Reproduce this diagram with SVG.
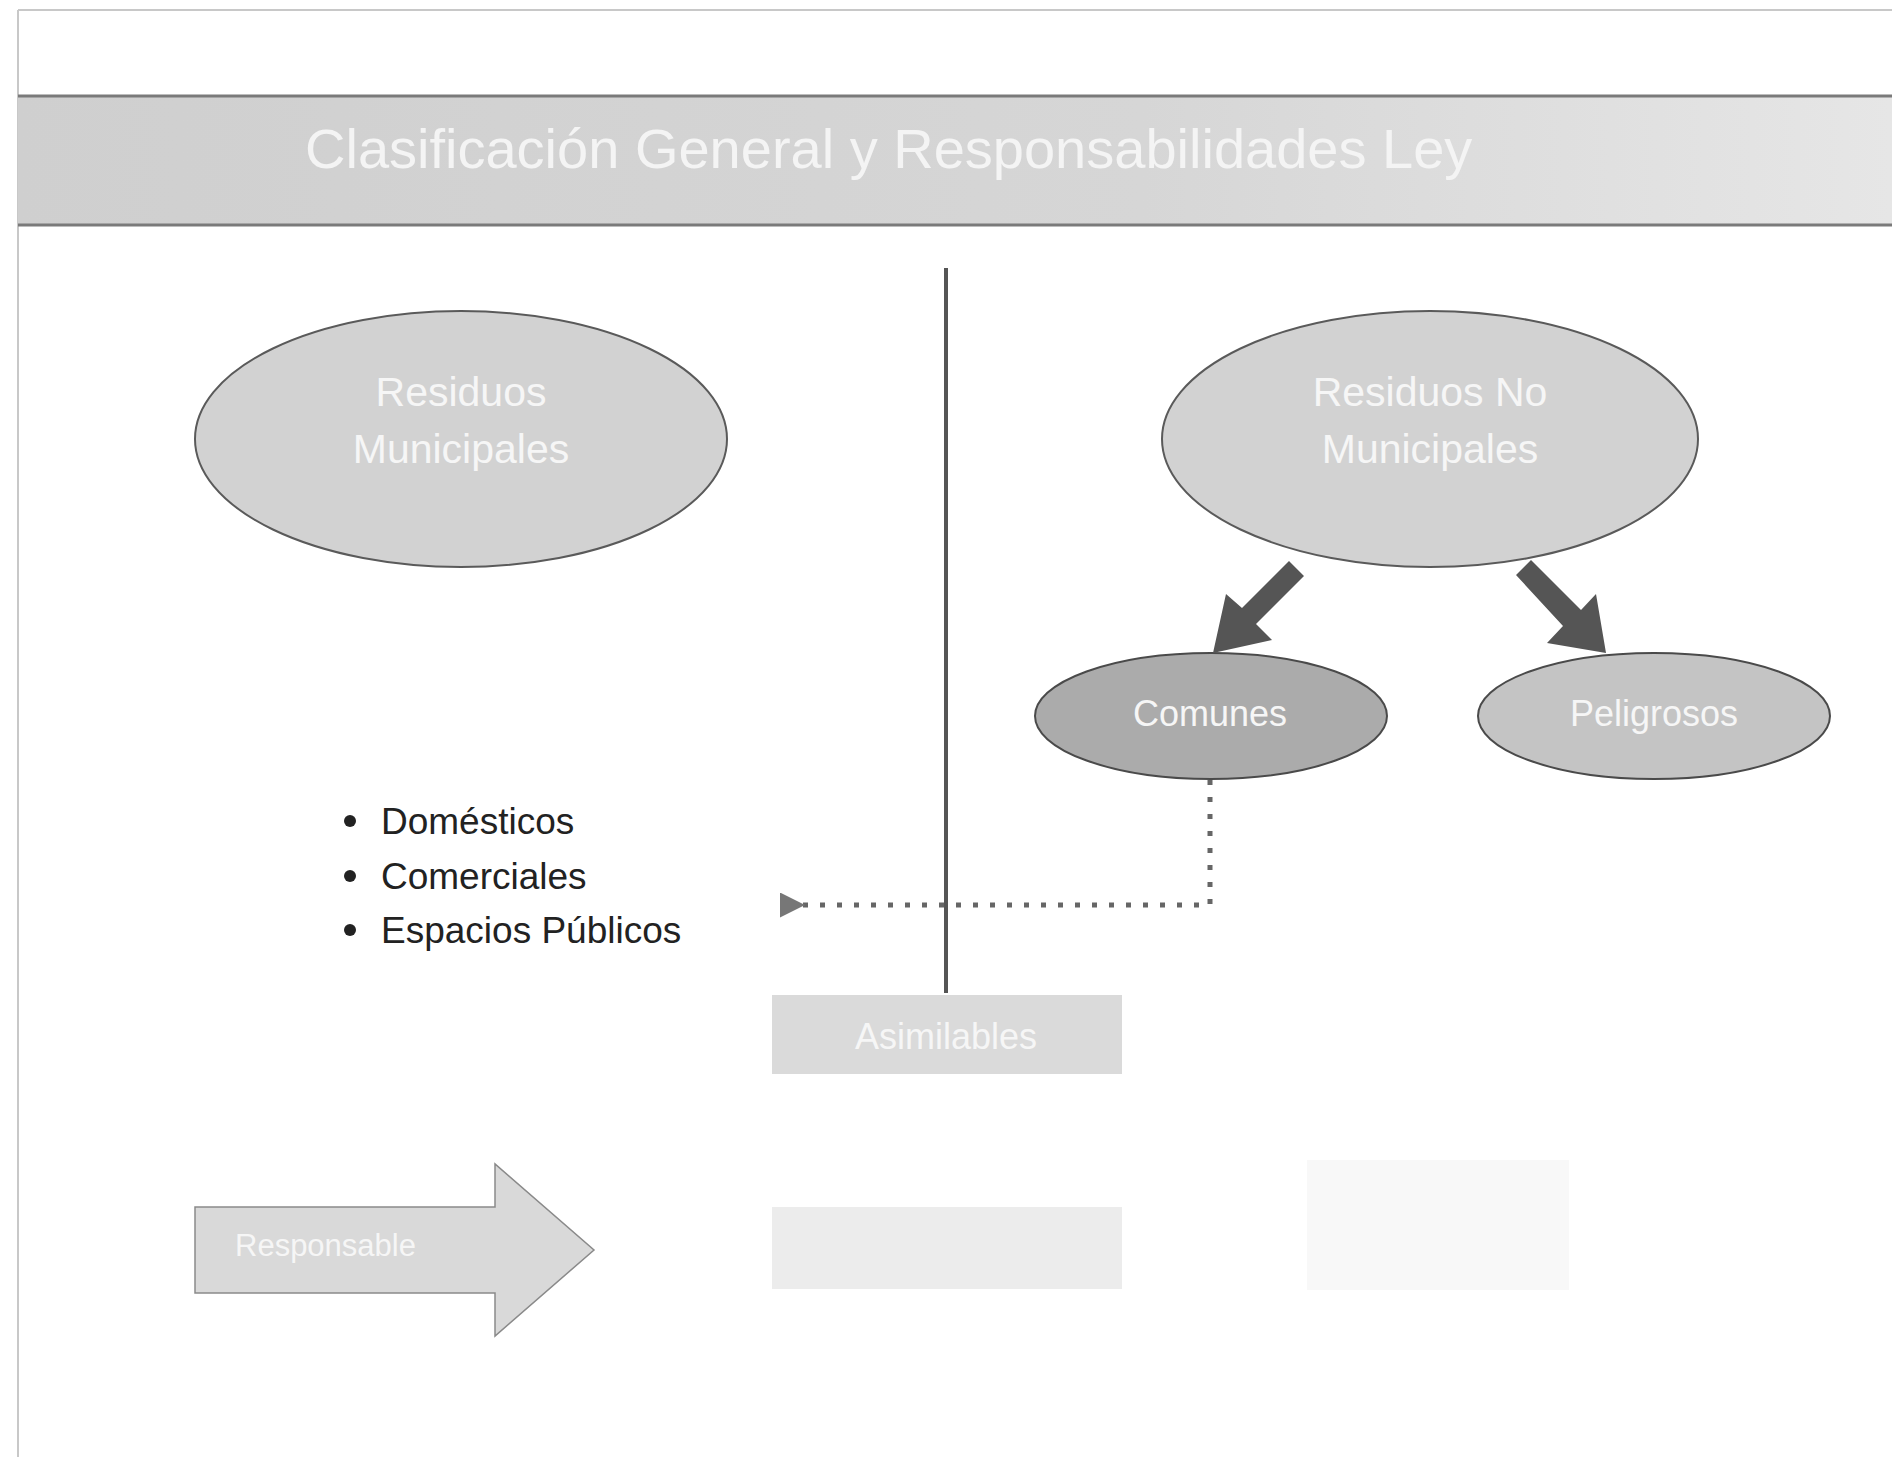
<svg xmlns="http://www.w3.org/2000/svg" width="1892" height="1457" viewBox="0 0 1892 1457">
<defs>
<linearGradient id="band" x1="0" y1="0" x2="1" y2="0">
<stop offset="0" stop-color="#cfcfcf"/>
<stop offset="0.6" stop-color="#d6d6d6"/>
<stop offset="1" stop-color="#e6e6e6"/>
</linearGradient>
<marker id="dotHead" viewBox="0 0 10 10" refX="2" refY="5" markerWidth="5" markerHeight="5" orient="auto-start-reverse" markerUnits="strokeWidth">
<path d="M0,5 L10,0 L10,10 Z" fill="#777"/>
</marker>
<style>
.big{fill:#d2d2d2;stroke:#5a5a5a;stroke-width:2}
.small{stroke:#4a4a4a;stroke-width:2}
.lbl{font-family:"Liberation Sans",Arial,sans-serif;fill:#f6f6f6;text-anchor:middle}
.bul{font-family:"Liberation Sans",Arial,sans-serif;fill:#222;font-size:37px}
.blk{fill:#555}
</style>
</defs>
<rect width="1892" height="1457" fill="#ffffff"/>
<line x1="18" y1="10" x2="1892" y2="10" stroke="#c8c8c8" stroke-width="2"/>
<line x1="18" y1="10" x2="18" y2="1457" stroke="#c8c8c8" stroke-width="2"/>

<g id="title">
<rect x="18" y="96" width="1874" height="129" fill="url(#band)"/>
<line x1="18" y1="96" x2="1892" y2="96" stroke="#7a7a7a" stroke-width="3"/>
<line x1="18" y1="225" x2="1892" y2="225" stroke="#7a7a7a" stroke-width="3"/>
<text x="305" y="168" font-family="'Liberation Sans',Arial,sans-serif" font-size="56" fill="#f4f4f4">Clasificación General y Responsabilidades Ley</text>
</g>

<g id="divider">
<line x1="946" y1="268" x2="946" y2="993" stroke="#555" stroke-width="4"/>
</g>

<g id="residuos-municipales">
<ellipse cx="461" cy="439" rx="266" ry="128" class="big"/>
<text x="461" y="406" class="lbl" font-size="41">Residuos</text>
<text x="461" y="463" class="lbl" font-size="41">Municipales</text>
</g>

<g id="residuos-no-municipales">
<ellipse cx="1430" cy="439" rx="268" ry="128" class="big" fill="#cdcdcd"/>
<text x="1430" y="406" class="lbl" font-size="41">Residuos No</text>
<text x="1430" y="463" class="lbl" font-size="41">Municipales</text>
</g>

<g id="comunes">
<ellipse cx="1211" cy="716" rx="176" ry="63" class="small" fill="#ababab"/>
<text x="1210" y="726" class="lbl" font-size="36">Comunes</text>
</g>

<g id="peligrosos">
<ellipse cx="1654" cy="716" rx="176" ry="63" class="small" fill="#c4c4c4"/>
<text x="1654" y="726" class="lbl" font-size="36">Peligrosos</text>
</g>

<g id="lista">
<circle cx="350" cy="821" r="6" fill="#222"/>
<text x="381" y="834" class="bul">Domésticos</text>
<circle cx="350" cy="876" r="6" fill="#222"/>
<text x="381" y="889" class="bul">Comerciales</text>
<circle cx="350" cy="930" r="6" fill="#222"/>
<text x="381" y="943" class="bul">Espacios Públicos</text>
</g>

<g id="asimilables">
<rect x="772" y="995" width="350" height="79" fill="#dadada"/>
<text x="946" y="1049" class="lbl" font-size="36">Asimilables</text>
</g>

<g id="responsable">
<path d="M195,1207 L495,1207 L495,1164 L594,1250 L495,1336 L495,1293 L195,1293 Z" fill="#d9d9d9" stroke="#8a8a8a" stroke-width="1.5"/>
<text x="235" y="1256" font-family="'Liberation Sans',Arial,sans-serif" font-size="31" fill="#f6f6f6">Responsable</text>
</g>

<g id="bloque-responsable">
<rect x="772" y="1207" width="350" height="82" fill="#ececec"/>
</g>

<g id="bloque-derecho">
<rect x="1307" y="1160" width="262" height="130" fill="#f8f8f8"/>
</g>

<g id="connectors">
<path class="blk" d="M1289,561 L1304,576 L1256,624 L1272,640 L1213,653 L1226,594 L1242,608 Z"/>
<path class="blk" d="M1516,575 L1531,560 L1581,610 L1596,594 L1606,653 L1547,643 L1563,626 Z"/>
<path d="M1210,780 L1210,905 L800,905" fill="none" stroke="#666" stroke-width="5" stroke-dasharray="5 12" marker-end="url(#dotHead)"/>
</g>
</svg>
